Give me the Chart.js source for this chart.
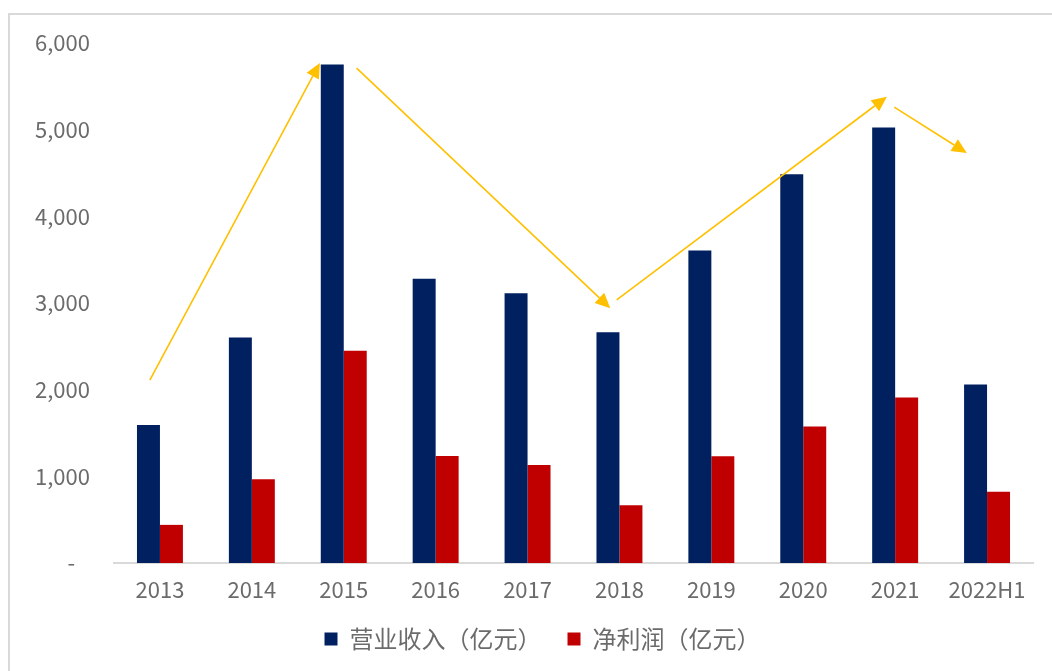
<!DOCTYPE html>
<html>
<head>
<meta charset="utf-8">
<script src="https://cdn.jsdelivr.net/npm/chart.js@4.4.1/dist/chart.umd.min.js"></script>
<style>
html,body{margin:0;padding:0;background:#fff;overflow:hidden;}
#wrap{position:relative;width:1052px;height:671px;overflow:hidden;}
#frame{position:absolute;left:8px;top:13px;width:1200px;height:800px;border:2px solid #d9d9d9;box-sizing:border-box;}
canvas{position:absolute;left:0;top:0;}
</style>
</head>
<body>
<div id="wrap"><div id="frame"></div><canvas id="c" width="1052" height="671"></canvas></div>
<script>
const categories = ['2013', '2014', '2015', '2016', '2017', '2018', '2019', '2020', '2021', '2022H1'];
const revenue = [1592, 2603, 5752, 3280, 3113, 2663, 3605, 4485, 5024, 2060];
const netProfit = [440, 966, 2448, 1234, 1130, 666, 1231, 1575, 1911, 822];
const seriesNames = ['营业收入（亿元）', '净利润（亿元）'];
const yMin = 0, yMax = 6000, yStep = 1000;
// trend arrows, in data units (category index, value)
const arrowStartX = [-0.11, 2.14, 4.97, 7.99];
const arrowStartY = [2110, 5710, 3035, 5260];
const arrowEndX = [1.74, 4.90, 7.91, 8.78];
const arrowEndY = [5770, 2940, 5380, 4730];

const NAVY = '#002060', RED = '#C00000', GOLD = '#FFC000', TXT = '#6b6b6b';
Chart.defaults.font.family = '"Noto Sans CJK SC", "Noto Sans", sans-serif';
Chart.defaults.font.size = 22;
Chart.defaults.color = TXT;

const arrowPlugin = {
  id: 'trendArrows',
  afterLayout(chart) {
    // nudge the legend row into place
    const lg = chart.legend;
    if (lg) { lg.top -= 5; lg.bottom -= 5; lg.left += 16; lg.right += 16; }
  },
  afterDatasetsDraw(chart) {
    const {ctx, scales: {x, y}} = chart;
    ctx.save();
    ctx.strokeStyle = GOLD;
    ctx.fillStyle = GOLD;
    ctx.lineWidth = 1.6;
    for (let i = 0; i < arrowStartX.length; i++) {
      const x1 = x.getPixelForValue(arrowStartX[i]), y1 = y.getPixelForValue(arrowStartY[i]);
      const x2 = x.getPixelForValue(arrowEndX[i]), y2 = y.getPixelForValue(arrowEndY[i]);
      const a = Math.atan2(y2 - y1, x2 - x1);
      const hl = 15, hw = 7;
      const bx = x2 - hl * Math.cos(a), by = y2 - hl * Math.sin(a);
      ctx.beginPath(); ctx.moveTo(x1, y1); ctx.lineTo(bx, by); ctx.stroke();
      ctx.beginPath();
      ctx.moveTo(x2, y2);
      ctx.lineTo(bx + hw * Math.sin(a), by - hw * Math.cos(a));
      ctx.lineTo(bx - hw * Math.sin(a), by + hw * Math.cos(a));
      ctx.closePath(); ctx.fill();
    }
    ctx.restore();
  }
};

new Chart(document.getElementById('c'), {
  type: 'bar',
  data: {
    labels: categories,
    datasets: [
      {label: seriesNames[0], data: revenue, backgroundColor: NAVY, borderWidth: 0, categoryPercentage: 0.5, barPercentage: 1.0},
      {label: seriesNames[1], data: netProfit, backgroundColor: RED, borderWidth: 0, categoryPercentage: 0.5, barPercentage: 1.0}
    ]
  },
  options: {
    responsive: false,
    animation: false,
    layout: {padding: {top: 43, left: 20, right: 19, bottom: 5}},
    plugins: {
      legend: {position: 'bottom', labels: {boxWidth: 13, boxHeight: 13, padding: 26, color: TXT, font: {size: 24}}},
      tooltip: {enabled: false}
    },
    scales: {
      x: {
        grid: {display: false, drawTicks: false},
        border: {display: true, color: '#d9d9d9', width: 2},
        ticks: {padding: 13, color: TXT, font: {size: 22}, maxRotation: 0, autoSkip: false},
        afterFit(s) { s.height = 43; }
      },
      y: {
        min: yMin, max: yMax,
        grid: {display: false, drawTicks: false},
        border: {display: false},
        ticks: {stepSize: yStep, padding: 24, color: TXT, font: {size: 22},
          callback: v => v === 0 ? '-   ' : v.toLocaleString('en-US')},
        afterFit(s) { s.width = 94; }
      }
    }
  },
  plugins: [arrowPlugin]
});
</script>
</body>
</html>
